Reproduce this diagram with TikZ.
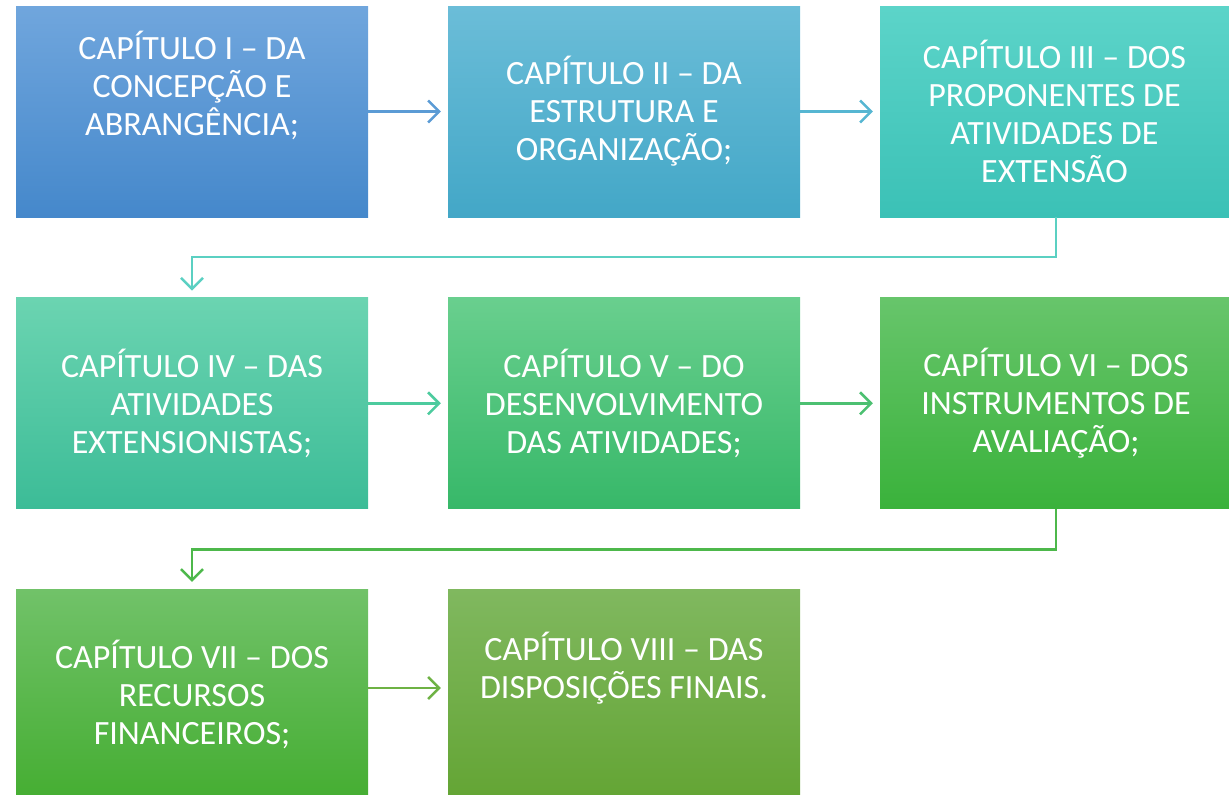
\documentclass[tikz,border=0pt]{standalone}
\usepackage{fontspec}
\setmainfont{Carlito}
\usetikzlibrary{arrows.meta}
\definecolor{t1}{HTML}{70A6DD}\definecolor{u1}{HTML}{4588CB}
\definecolor{t2}{HTML}{6BBDD8}\definecolor{u2}{HTML}{43A7C7}
\definecolor{t3}{HTML}{5CD4C9}\definecolor{u3}{HTML}{3BC1B6}
\definecolor{t4}{HTML}{6BD4B1}\definecolor{u4}{HTML}{3CBC97}
\definecolor{t5}{HTML}{69CF8E}\definecolor{u5}{HTML}{37B869}
\definecolor{t6}{HTML}{67C56B}\definecolor{u6}{HTML}{3AB23B}
\definecolor{t7}{HTML}{71C269}\definecolor{u7}{HTML}{46AE33}
\definecolor{t8}{HTML}{80B85F}\definecolor{u8}{HTML}{64A535}
\definecolor{a1}{HTML}{5B9BD5}\definecolor{a2}{HTML}{56B6D2}
\definecolor{a3}{HTML}{5BD0C2}\definecolor{a4}{HTML}{4DCB9E}
\definecolor{a5}{HTML}{4CC071}\definecolor{a6}{HTML}{4DB84B}
\definecolor{a7}{HTML}{6EB244}
\tikzset{
  chapbox/.style={rectangle, minimum width=352pt, minimum height=211pt, inner sep=0pt, draw=none},
  chaptext/.style={text=white, align=center, font=\fontsize{34}{38}\selectfont, inner sep=0pt},
  link/.style={line width=2.5pt, -{Straight Barb[length=11pt,width=22pt,line width=2.5pt]}}
}
\begin{document}
\begin{tikzpicture}[x=1pt,y=-1pt]
\useasboundingbox (0,0) rectangle (1229,795);
\node[chapbox, top color=t1, bottom color=u1] (b1) at (192,111.5) {};
\node[chapbox, top color=t2, bottom color=u2] (b2) at (624,111.5) {};
\node[chapbox, top color=t3, bottom color=u3] (b3) at (1056,111.5) {};
\node[chapbox, top color=t4, bottom color=u4] (b4) at (192,403.3) {};
\node[chapbox, top color=t5, bottom color=u5] (b5) at (624,403.3) {};
\node[chapbox, top color=t6, bottom color=u6] (b6) at (1056,403.3) {};
\node[chapbox, minimum height=206pt, top color=t7, bottom color=u7] (b7) at (192,692) {};
\node[chapbox, minimum height=206pt, top color=t8, bottom color=u8] (b8) at (624,692) {};

\node[chaptext] (x1) at ([yshift=26pt]b1.center) {CAPÍTULO I – DA\\CONCEPÇÃO E\\ABRANGÊNCIA;};
\node[chaptext] (x2) at (b2.center) {CAPÍTULO II – DA\\ESTRUTURA E\\ORGANIZAÇÃO;};
\node[chaptext] (x3) at ([xshift=-1.5pt]b3.center) {CAPÍTULO III – DOS\\PROPONENTES DE\\ATIVIDADES DE\\EXTENSÃO};
\node[chaptext] (x4) at (b4.center) {CAPÍTULO IV – DAS\\ATIVIDADES\\EXTENSIONISTAS;};
\node[chaptext] (x5) at (b5.center) {CAPÍTULO V – DO\\DESENVOLVIMENTO\\DAS ATIVIDADES;};
\node[chaptext] (x6) at (b6.center) {CAPÍTULO VI – DOS\\INSTRUMENTOS DE\\AVALIAÇÃO;};
\node[chaptext] (x7) at ([yshift=-2pt]b7.center) {CAPÍTULO VII – DOS\\RECURSOS\\FINANCEIROS;};
\node[chaptext] (x8) at ([yshift=24pt]b8.center) {CAPÍTULO VIII – DAS\\DISPOSIÇÕES FINAIS.};

\draw[link, a1] (b1.east) -- ([xshift=-7pt]b2.west);
\draw[link, a2] (b2.east) -- ([xshift=-7pt]b3.west);
\draw[link, a3] (b3.south) -- ++(0,40) -| ([yshift=7pt]b4.north);
\draw[link, a4] (b4.east) -- ([xshift=-7pt]b5.west);
\draw[link, a5] (b5.east) -- ([xshift=-7pt]b6.west);
\draw[link, a6] (b6.south) -- ++(0,40.5) -| ([yshift=7pt]b7.north);
\draw[link, a7] ([yshift=4pt]b7.east) -- ([yshift=4pt,xshift=-7pt]b8.west);
\end{tikzpicture}
\end{document}
